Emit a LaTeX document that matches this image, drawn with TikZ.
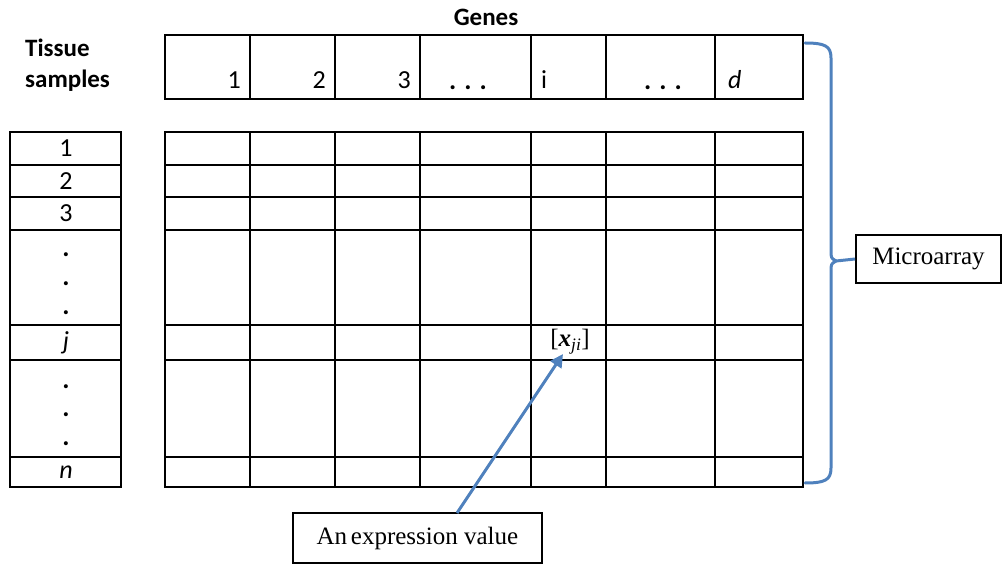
\documentclass[tikz,border=0pt]{standalone}
\usepackage{fontspec}
\setmainfont{Liberation Serif}
\newfontfamily\calfont{Carlito}
\usetikzlibrary{arrows.meta}
\definecolor{obl}{RGB}{79,129,189}
\begin{document}
\begin{tikzpicture}[x=1pt,y=-1pt,
  grid/.style={draw=black,line width=2pt},
  boldlab/.style={font=\calfont\bfseries\fontsize{25}{28}\selectfont,inner sep=0pt},
  numlab/.style={font=\calfont\fontsize{26}{28}\selectfont,inner sep=0pt},
  dotlab/.style={font=\calfont\bfseries\fontsize{27}{28}\selectfont,inner sep=0pt,anchor=base},
  serifbox/.style={draw=black,line width=1.9pt,font=\fontsize{25}{30}\selectfont,inner sep=0pt},
  blueline/.style={draw=obl,line width=3pt}]
\useasboundingbox (0,0) rectangle (1002,564);
% header row
\draw[grid] (165,35) rectangle (803,99);
\foreach \c in {250,335,420,531,606,715} \draw[grid] (\c,35) -- (\c,99);
% main grid
\draw[grid] (165,132) rectangle (803,487);
\foreach \c in {250,335,420,531,606,715} \draw[grid] (\c,132) -- (\c,487);
\foreach \r in {165,197,230,325,360,457} \draw[grid] (165,\r) -- (803,\r);
% left column
\draw[grid] (10,132) rectangle (121,487);
\foreach \r in {165,197,230,325,360,457} \draw[grid] (10,\r) -- (121,\r);
% titles
\node[boldlab,anchor=base] (genes) at (486,26) {Genes};
\node[boldlab,anchor=base west] (tis1) at (25,57) {Tissue};
\node[boldlab,anchor=base west] (tis2) at (25,88) {samples};
% header labels
\node[numlab,anchor=base east] (g1) at (241,89) {1};
\node[numlab,anchor=base east] (g2) at (326,89) {2};
\node[numlab,anchor=base east] (g3) at (411,89) {3};
\node[dotlab] (gd1) at (468,90) {.\hspace{0.3em}.\hspace{0.3em}.};
\node[numlab,anchor=base west] (gi) at (541,89) {i};
\node[dotlab] (gd2) at (663,90) {.\hspace{0.3em}.\hspace{0.3em}.};
\node[numlab,anchor=base west] (gdd) at (728,89) {\itshape d};
% row labels
\node[numlab] (s1) at (66,148.5) {1};
\node[numlab] (s2) at (66,181) {2};
\node[numlab] (s3) at (66,213.5) {3};
\node[dotlab] (sd1) at (66,257) {.};
\node[dotlab] (sd2) at (66,286) {.};
\node[dotlab] (sd3) at (66,315) {.};
\node[numlab] (sj) at (66,342.5) {\itshape j};
\node[dotlab] (sd4) at (66,388) {.};
\node[dotlab] (sd5) at (66,416) {.};
\node[dotlab] (sd6) at (66,445) {.};
\node[numlab] (sn) at (66,472) {\itshape n};
% expression value
\node[inner sep=0pt,font=\fontsize{25}{28}\selectfont] (xji) at (570,342) {[\textbf{\textit{x}}\textsubscript{\textit{ji}}]};
\node[serifbox,minimum width=249pt,minimum height=50pt] (ev) at (417.5,538) {An\hspace{-0.1em} expression value};
\coordinate (evtop) at (457,513);
\coordinate (xtip) at (563,354);
\draw[blueline,-{Triangle[length=13pt,width=13pt]}] (evtop) -- (xtip);
% microarray brace
\node[serifbox,minimum width=145pt,minimum height=48pt] (micro) at (928.5,259) {Microarray};
\coordinate (brt) at (836,261);
\draw[blueline,line cap=round,line join=round] (805,43) .. controls (825,43) and (831,46) .. (831,58) -- (831,250)
  .. controls (831,258) .. (brt) .. controls (831,264) .. (831,272) -- (831,468)
  .. controls (831,480) and (825,483) .. (805,483);
\draw[blueline] (brt) -- (micro.west);
\end{tikzpicture}
\end{document}
